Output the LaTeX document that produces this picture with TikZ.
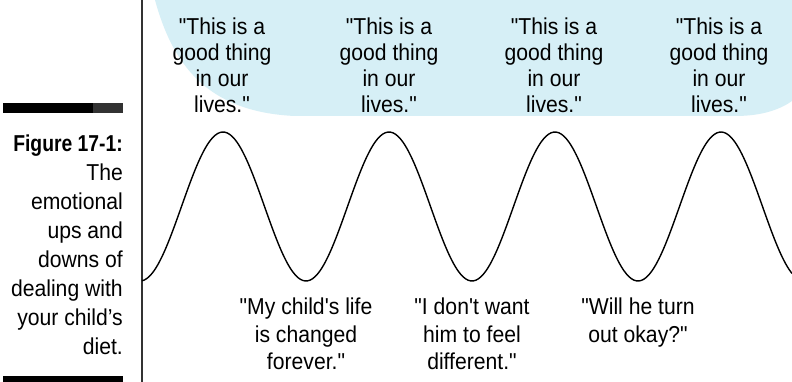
\documentclass[tikz,border=0pt]{standalone}
\usepackage{fontspec}
\newfontfamily\qfont{Liberation Sans}[FakeStretch=0.92]
\newfontfamily\qbold{Liberation Sans}[FakeStretch=0.84]
\definecolor{skyfill}{RGB}{214,239,246}
\definecolor{rulegray}{RGB}{50,50,50}
\tikzset{
  quote/.style={anchor=north, inner sep=0pt, align=center, text=black,
    font=\qfont\fontsize{23}{26}\selectfont},
  lowquote/.style={quote, font=\qfont\fontsize{23}{27.5}\selectfont},
  captext/.style={anchor=north east, inner sep=0pt, align=right,
    font=\qfont\fontsize{23}{29}\selectfont},
  wave/.style={line width=1.4pt, black, line join=round}
}
\begin{document}
\begin{tikzpicture}[x=1pt,y=-1pt]
\useasboundingbox (0,0) rectangle (792,382);
\fill[white] (0,0) rectangle (792,382);
% light blue area
\fill[skyfill] (155,0) .. controls (172,62) and (205,112) .. (295,116)
  -- (735,116) .. controls (765,116) and (782,108) .. (792,101)
  -- (792,0) -- cycle;
% vertical rule
\draw[rulegray, line width=1.2pt] (142,0) -- (142,382);
% bars
\fill[black] (3,103) rectangle (93,113);
\fill[rulegray] (93,103) rectangle (123,113);
\fill[black] (3,376) rectangle (123,382);
% caption
\node[captext] (cap) at (123,135) {{\qbold\bfseries Figure 17-1:}\\The\\emotional\\ups and\\downs of\\dealing with\\your child’s\\diet.};
% wave
\draw[wave] plot[domain=142:792, samples=260, smooth] (\x,{206.5-74.5*cos(2.168675*(\x-223))});
% top quotes
\node[quote] (q1) at (222,18) {"This is a\\good thing\\in our\\lives."};
\node[quote] (q2) at (389,18) {"This is a\\good thing\\in our\\lives."};
\node[quote] (q3) at (554,18) {"This is a\\good thing\\in our\\lives."};
\node[quote] (q4) at (719,18) {"This is a\\good thing\\in our\\lives."};
% bottom quotes
\node[lowquote] (b1) at (306,298) {"My child's life\\is changed\\forever."};
\node[lowquote] (b2) at (472,298) {"I don't want\\him to feel\\different."};
\node[lowquote] (b3) at (638,298) {"Will he turn\\out okay?"};
\end{tikzpicture}
\end{document}
